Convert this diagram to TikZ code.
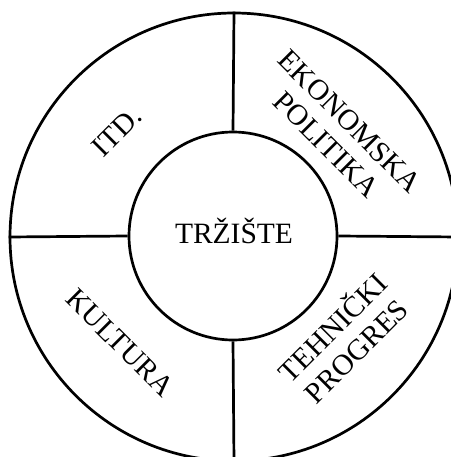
\documentclass[tikz,border=0pt]{standalone}
\usepackage{fontspec}
\setmainfont{Liberation Serif}
\begin{document}
\begin{tikzpicture}[x=1pt,y=-1pt,
  ring/.style={draw, line width=2.7pt, circle, inner sep=0pt},
  divider/.style={line width=2.7pt},
  lbl/.style={inner sep=0pt, align=center, font=\fontsize{29.5}{33}\selectfont}]
\useasboundingbox (0,0) rectangle (450,457);
\node[ring, minimum size=448pt] (outer) at (234,237) {};
\node[ring, minimum size=208pt, fill=white] (inner) at (233,236) {};
\draw[divider] (inner.north) -- (outer.north);
\draw[divider] (inner.south) -- (outer.south);
\draw[divider] (inner.west) -- (outer.west);
\draw[divider] (inner.east) -- (outer.east);
\node[lbl, anchor=base] (market) at (234,243) {TRŽIŠTE};
\node[lbl, rotate=45] (itd) at (117,132) {ITD.};
\node[lbl, rotate=-45] (econ) at (338,133) {EKONOMSKA\\POLITIKA};
\node[lbl, rotate=45] (tech) at (343,338) {TEHNIČKI\\PROGRES};
\node[lbl, rotate=-45] (cult) at (120,343) {KULTURA};
\end{tikzpicture}
\end{document}
